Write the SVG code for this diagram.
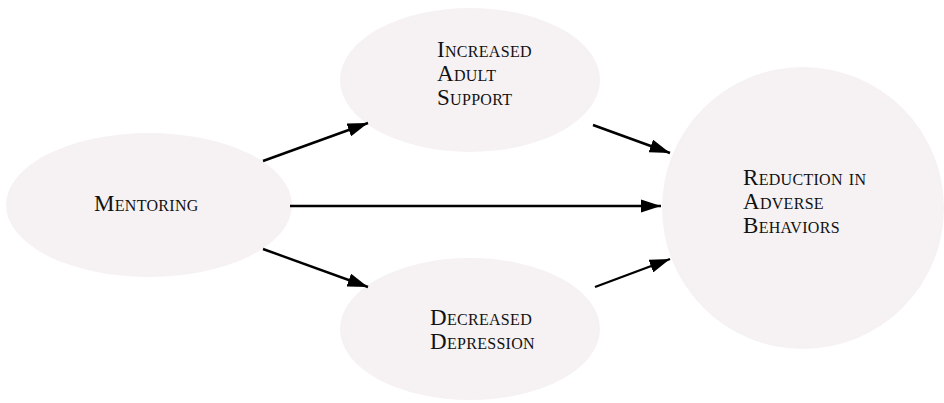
<svg xmlns="http://www.w3.org/2000/svg" width="944" height="403" viewBox="0 0 944 403">
<defs>
<marker id="ah" markerWidth="8.5" markerHeight="5.6" refX="8.5" refY="2.8" orient="auto" markerUnits="strokeWidth" viewBox="0 0 8.5 5.6">
<path d="M0,0 L8.5,2.8 L0,5.6 Z" fill="#000"/>
</marker>
</defs>
<style>
.node{fill:#f6f2f4;}
.lbl{font-family:"Liberation Serif",serif;font-size:23px;font-variant:small-caps;fill:#111;letter-spacing:0.3px;}
.edge{stroke:#000;stroke-width:2.4;fill:none;marker-end:url(#ah);}
</style>
<rect width="944" height="403" fill="#fff"/>
<g id="mentoring">
<ellipse class="node" cx="149" cy="205" rx="143" ry="72"/>
<text class="lbl" x="94" y="211">Mentoring</text>
</g>
<g id="increased">
<ellipse class="node" cx="470" cy="80" rx="130" ry="72"/>
<text class="lbl" x="437" y="57">Increased</text>
<text class="lbl" x="437" y="81">Adult</text>
<text class="lbl" x="437" y="105">Support</text>
</g>
<g id="decreased">
<ellipse class="node" cx="470" cy="329" rx="130" ry="71"/>
<text class="lbl" x="430" y="325">Decreased</text>
<text class="lbl" x="430" y="349">Depression</text>
</g>
<g id="reduction">
<circle class="node" cx="803" cy="208" r="141"/>
<text class="lbl" x="743" y="185">Reduction in</text>
<text class="lbl" x="743" y="209">Adverse</text>
<text class="lbl" x="743" y="233">Behaviors</text>
</g>
<g id="connectors">
<line class="edge" x1="263" y1="161" x2="368" y2="123"/>
<line class="edge" x1="593" y1="125" x2="670" y2="153"/>
<line class="edge" x1="290" y1="206" x2="661" y2="206"/>
<line class="edge" x1="263" y1="249" x2="368" y2="287"/>
<line class="edge" x1="595" y1="287" x2="670" y2="259"/>
</g>
</svg>
